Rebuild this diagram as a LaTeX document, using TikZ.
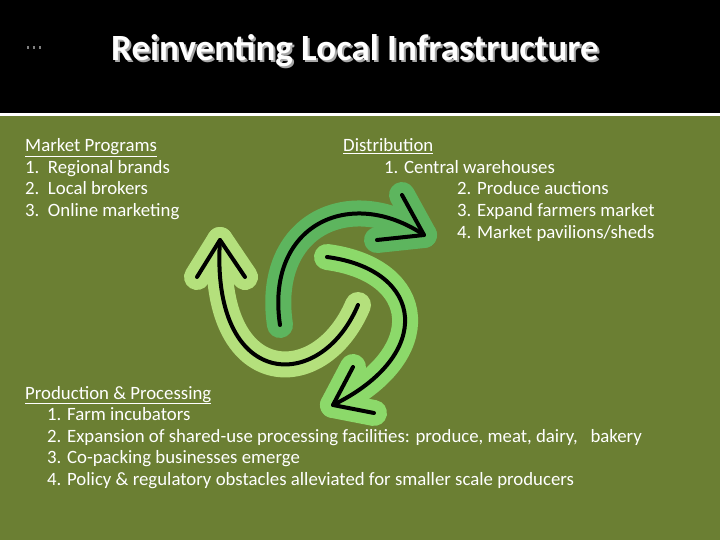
\documentclass[tikz,border=0pt]{standalone}
\usepackage{fontspec}
\setmainfont{Carlito}
\definecolor{olive}{HTML}{6B7F33}
\definecolor{ga}{HTML}{5DB55E}
\definecolor{gb}{HTML}{8CD96A}
\definecolor{gc}{HTML}{B4E07C}
\tikzset{
 txt/.style={anchor=base west,inner sep=0,text=white,font=\fontsize{18.8}{20}\selectfont},
 band/.style={line width=26pt,line cap=round,line join=round},
 core/.style={line width=4pt,line cap=round,line join=round,draw=black},
}
\begin{document}
\begin{tikzpicture}[x=1pt,y=-1pt]
\useasboundingbox (0,0) rectangle (720,540);
\fill[olive] (0,0) rectangle (720,540);
\fill[black] (0,0) rectangle (720,113);
\fill[white] (0,113) rectangle (720,116.5);
\foreach \i in {0,1,2} \fill[gray] (27+\i*6,46) rectangle (29+\i*6,49);
\node[anchor=base west,inner sep=0,text=white,font=\bfseries\fontsize{37}{40}\selectfont,
  preaction={}] (t) at (111,61) {\pgfsetfillcolor{gray}\rlap{\hspace{2pt}\raisebox{-2pt}{\color{gray!70}Reinventing Local Infrastructure}}Reinventing Local Infrastructure};
% arrows
\coordinate (a1s) at (280,325); \coordinate (a1t) at (424,235);
\coordinate (a2s) at (327,257); \coordinate (a2t) at (333,405);
\coordinate (a3s) at (358,305); \coordinate (a3t) at (220,240);
\foreach \st/\col in {band/ga,core/black}{
 \draw[\st,draw=\col] (a1s) .. controls (265,225) and (350,185) .. (a1t);
 \draw[\st,draw=\col] (402,195) -- (a1t) -- (377,240);
}
\foreach \st/\col in {band/gc,core/black}{
 \draw[\st,draw=\col] (a3s) .. controls (320,395) and (210,390) .. (a3t);
 \draw[\st,draw=\col] (197,277) -- (a3t) -- (245,277);
}
\foreach \st/\col in {band/gb,core/black}{
 \draw[\st,draw=\col] (a2s) .. controls (425,270) and (435,355) .. (a2t);
 \draw[\st,draw=\col] (353,367) -- (a2t) -- (374,413);
}
% texts
\node[txt] (m0) at (25,152) {\underline{Market Programs}};
\node[txt] (m1) at (25,173.5) {1.\ \ Regional brands};
\node[txt] (m2) at (25,195) {2.\ \ Local brokers};
\node[txt] (m3) at (25,216.5) {3.\ \ Online marketing};
\node[txt] (d0) at (343,152) {\underline{Distribution}};
\node[txt] (d1) at (384,173.5) {1. Central warehouses};
\node[txt] (d2) at (457,195) {2. Produce auctions};
\node[txt] (d3) at (457,216.5) {3. Expand farmers market};
\node[txt] (d4) at (457,238) {4. Market pavilions/sheds};
\node[txt] (p0) at (25,399) {\underline{Production \& Processing}};
\node[txt] (p1) at (47,420.5) {1. Farm incubators};
\node[txt] (p2) at (47,442) {2. Expansion of shared-use processing facilities: produce, meat, dairy,\ \ \ bakery};
\node[txt] (p3) at (47,463.5) {3. Co-packing businesses emerge};
\node[txt] (p4) at (47,485) {4. Policy \& regulatory obstacles alleviated for smaller scale producers};
\end{tikzpicture}
\end{document}
